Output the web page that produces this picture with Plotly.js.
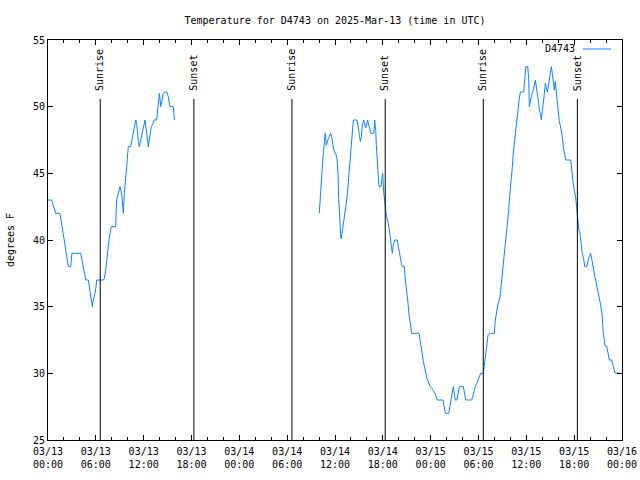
<!DOCTYPE html>
<html><head><meta charset="utf-8">
<script src="https://cdn.plot.ly/plotly-3.0.1.min.js"></script>
<style>html,body{margin:0;padding:0;background:#fff}#chart{width:640px;height:480px}</style>
</head><body><div id="chart"></div>
<script>
const stationName = 'D4743';
const chartTitle = 'Temperature for D4743 on 2025-Mar-13 (time in UTC)';
const yAxisTitle = 'degrees F';

// hours since 2025-03-13 00:00 UTC, temperature in degrees F
const seg1Hours = [0.0,0.46,0.97,1.5,1.9,2.25,2.55,2.85,3.0,4.1,4.27,4.43,4.55,4.73,5.06,5.27,5.56,5.68,5.9,6.02,6.1,6.94,7.06,7.24,7.36,7.53,7.65,7.78,7.94,8.49,8.53,8.6,8.74,8.9,9.03,9.24,9.37,9.45,9.57,9.75,9.87,10.0,10.07,10.37,10.5,10.62,10.75,10.87,11.0,11.12,11.2,11.33,11.45,11.63,11.75,11.92,12.04,12.17,12.38,12.58,12.7,12.8,12.96,13.17,13.33,13.63,13.71,13.84,13.97,14.15,14.26,14.46,14.68,14.89,15.09,15.3,15.72,15.85];
const seg1Temps = [43,43,42,42,40.5,39,38,38,39,39,38.5,38,37.5,37,37,36,35,35.5,36,36.5,37,37,37.1,37.75,38.5,39.5,40,40.5,41,41,42,43,43.3,43.75,44,43.5,42.5,42,43.5,44.5,45.5,46.5,47,47,47.4,47.75,48,48.5,49,48.75,48,47.4,47,47.5,48,48.5,48.75,49,48,47,47.5,48,48.5,48.75,49,49,49.5,50.25,51,50,50.5,51,51.1,51.1,50.75,50,50,49];

const seg2Hours = [34.03,34.16,34.28,34.41,34.53,34.66,34.78,34.91,35.03,35.16,35.28,35.46,35.58,35.66,35.79,35.96,36.13,36.25,36.38,36.46,36.59,36.75,36.88,37.0,37.17,37.3,37.47,37.59,37.72,37.85,38.01,38.14,38.3,38.76,38.89,39.05,39.18,39.3,39.43,39.6,39.73,39.85,39.98,40.1,40.23,40.35,40.48,40.86,40.98,41.11,41.18,41.3,41.39,41.52,41.77,41.98,42.11,42.24,42.4,42.56,42.69,42.81,42.94,43.06,43.19,43.31,43.49,43.81,43.94,44.07,44.19,44.32,44.45,44.7,44.82,45.0,45.12,45.25,45.41,45.53,45.62,46.54,46.66,46.79,46.95,47.08,47.25,47.38,47.54,47.71,47.92,48.13,48.33,48.55,48.83,49.17,49.55,49.84,50.26,50.55,50.84,51.09,51.3,51.6,51.85,52.1,52.4,53.15,53.27,53.44,53.6,53.78,53.94,54.11,54.28,54.61,54.82,54.99,55.2,55.36,55.99,56.11,56.28,56.41,56.7,56.83,56.95,57.08,57.2,57.33,57.45,57.58,57.79,57.95,58.12,58.25,58.37,58.54,58.67,58.83,59.0,59.12,59.25,59.67,59.8,59.93,60.18,60.3,60.38,60.51,60.63,60.76,60.88,61.01,61.13,61.3,61.43,61.55,61.63,61.76,61.88,62.01,62.13,62.26,62.38,62.51,62.63,62.76,62.88,63.01,63.13,63.26,63.38,63.51,63.63,63.76,63.88,64.01,64.13,64.26,64.38,64.51,64.63,64.81,64.93,65.56,65.63,65.76,65.88,66.01,66.18,66.3,66.43,66.59,66.72,66.89,67.01,67.19,67.32,67.57,67.73,67.86,68.07,68.2,68.32,68.49,68.65,68.78,68.9,69.08,69.2,69.33,69.49,69.53,69.66,69.78,69.87,70.08,70.2,70.33,70.41,70.7,70.83,70.95,71.12,71.75];
const seg2Temps = [42,43.5,44.5,45.5,46.5,47.25,48,47.1,47.4,47.6,47.75,48,47.75,47.4,46.9,46.6,46.4,46.1,45,43.1,41.5,40.1,40.5,41,41.5,42.4,43,43.75,44.75,45.75,46.9,48.25,49,49,48.6,47.9,47.4,47.75,48.6,49,48.7,48.4,48.7,49,48.6,48.4,48,48,49,48.2,47.1,45.9,44.75,44,44,45,43.6,42.75,42,41.5,41.25,40.75,40.25,39.75,39,39.6,40,40,39.5,39,38.6,38.25,38,38,37,36.25,35.5,34.6,34,33.25,33,33,32.4,31.75,31.4,30.9,30.4,30,29.6,29.4,29,28.9,28.75,28.5,28,28,28,27,27,28,29,28,28,29,29,29,28,28,28.25,28.75,29,29.25,29.5,29.75,30,30,31,32.1,32.9,33,33,34,34.6,35.1,35.75,36.5,37.25,38,38.7,39.4,40.2,40.9,42.25,43.6,44.5,45.5,46.6,47.5,48.6,49.5,50.25,50.6,51.1,51.1,52,53,53,52,50,50.5,50.75,51,51.25,51.6,52,51.4,50.75,50.25,49.75,49.5,49,49.6,50.4,51,51.75,51.4,51.1,51.5,52,52.6,53,52.5,51.6,51.25,51.9,51,50.4,49.6,48.9,48.6,48.25,47.75,47,46.4,46,46,45.5,45,44.25,43.75,43.25,42.5,41.5,40.75,40.5,39.6,39,38.6,38,38,38.4,38.7,39,38.5,38,37.5,37.1,36.75,36.4,36,35.5,35.1,34.5,33.75,33,32.5,32.05,32.05,31.75,31.25,31,31,30.75,30.4,30.05,30];

const sunHours = [6.55, 18.3, 30.6, 42.3, 54.6, 66.4];
const sunLabels = ['Sunrise','Sunset','Sunrise','Sunset','Sunrise','Sunset'];

const t0 = Date.UTC(2025, 2, 13);
const toMs = h => t0 + h * 3600000;

const FONT = {family: 'DejaVu Sans Mono, Liberation Mono, monospace', size: 10, color: '#000'};
const lineColor = '#0b85ff';

const traces = [
  {x: seg1Hours.map(toMs), y: seg1Temps, type: 'scatter', mode: 'lines', name: stationName,
   line: {color: lineColor, width: 1}, showlegend: false, hoverinfo: 'skip'},
  {x: seg2Hours.map(toMs), y: seg2Temps, type: 'scatter', mode: 'lines', name: stationName,
   line: {color: lineColor, width: 1}, showlegend: false, hoverinfo: 'skip'}
];

const shapes = sunHours.map(h => ({type: 'line', xref: 'x', yref: 'paper',
  x0: toMs(h), x1: toMs(h), y0: 0, y1: 0.8525, line: {color: '#000', width: 1}}));
shapes.push({type: 'line', xref: 'paper', yref: 'paper', x0: 0.932, x1: 0.981, y0: 0.9775, y1: 0.9775,
  line: {color: lineColor, width: 1}});

const annotations = sunHours.map((h, i) => ({x: toMs(h), xref: 'x', y: 0.868, yref: 'paper',
  text: sunLabels[i], textangle: -90, showarrow: false, xanchor: 'center', yanchor: 'bottom', font: FONT}));
annotations.push({x: 0.922, xref: 'paper', y: 0.9775, yref: 'paper', text: stationName,
  showarrow: false, xanchor: 'right', yanchor: 'middle', font: FONT});

const layout = {
  width: 640, height: 480,
  margin: {l: 48, r: 18, t: 40, b: 40},
  paper_bgcolor: '#fff', plot_bgcolor: '#fff',
  font: FONT,
  title: {text: chartTitle, x: 0.5, xref: 'paper', y: 0.958, yref: 'container', yanchor: 'middle', font: FONT},
  showlegend: false,
  xaxis: {type: 'date', range: [toMs(0), toMs(72)], tick0: toMs(0), dtick: 6 * 3600000,
    tickformat: '%m/%d<br>%H:%M', ticks: 'inside', ticklen: 5, tickcolor: '#000', tickwidth: 1,
    showline: true, linecolor: '#000', linewidth: 1, mirror: 'ticks', showgrid: false, zeroline: false,
    automargin: false, tickfont: FONT, ticklabelstandoff: 2,
    minor: {dtick: 2 * 3600000, ticks: 'inside', ticklen: 3, tickcolor: '#000', showgrid: false}},
  yaxis: {range: [25, 55], tick0: 25, dtick: 5, ticks: 'inside', ticklen: 5, tickcolor: '#000',
    showline: true, linecolor: '#000', linewidth: 1, mirror: 'ticks', showgrid: false, zeroline: false,
    automargin: false, tickfont: FONT,
    title: {text: yAxisTitle, font: FONT, standoff: 16}},
  shapes: shapes,
  annotations: annotations
};

Plotly.newPlot('chart', traces, layout, {displayModeBar: false, staticPlot: true});
</script>
</body></html>
